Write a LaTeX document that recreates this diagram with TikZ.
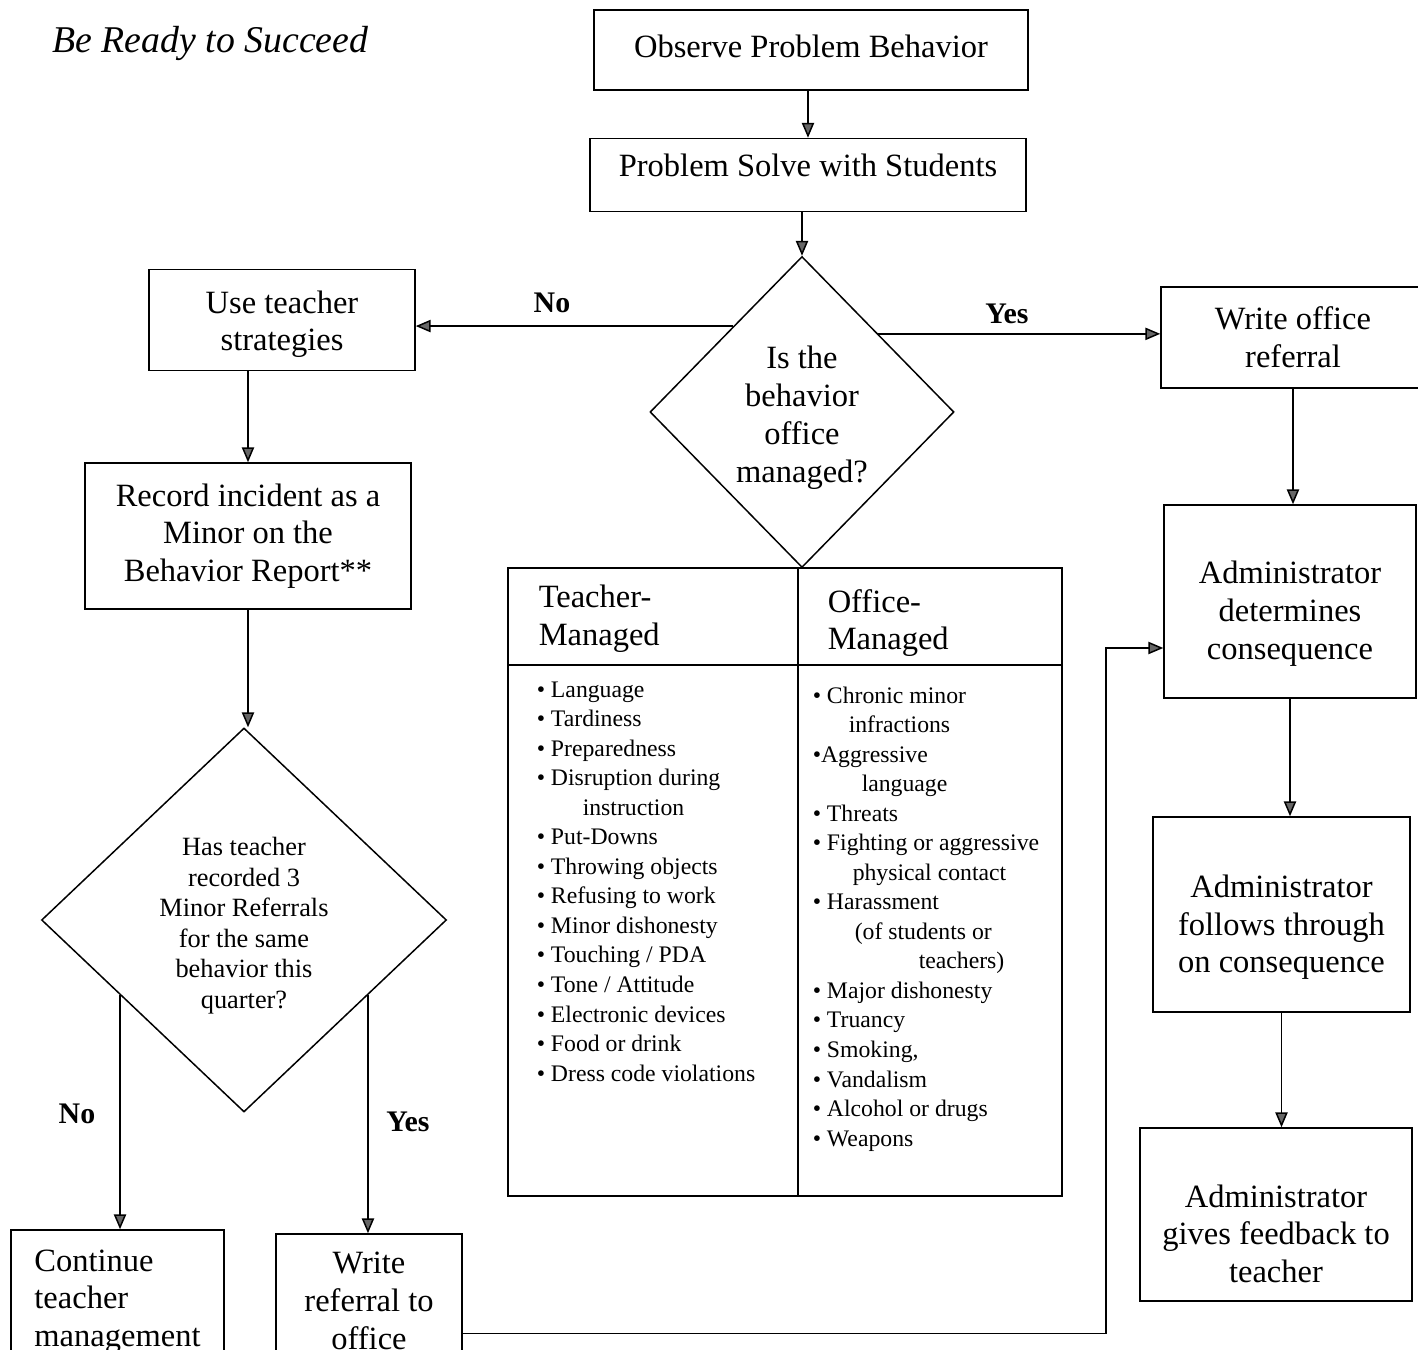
\documentclass[tikz,border=0pt]{standalone}
\usepackage{fontspec}
\setmainfont{Liberation Serif}
\usetikzlibrary{arrows.meta, shapes.geometric, calc}

\begin{document}
\begin{tikzpicture}[line width=0.85pt,
    box/.style={draw, rectangle, align=center, inner sep=0pt, font=\fontsize{18.5}{21.5}\selectfont},
    decision/.style={draw, diamond, align=center, inner sep=0pt, font=\fontsize{18.5}{21.5}\selectfont},
    lbl/.style={font=\fontsize{17}{20}\selectfont\bfseries},
    head/.style={anchor=west, align=left, inner sep=0pt, font=\fontsize{18.5}{21.5}\selectfont},
    items/.style={anchor=north west, align=left, inner sep=0pt, font=\fontsize{13.5}{16.8}\selectfont},
    arr/.style={-{Triangle[length=8.5pt, width=7pt, fill=black!60]}}]

    \useasboundingbox (0,0) rectangle (28.36,-27);

    \node[anchor=west, font=\fontsize{21.5}{24}\selectfont\itshape] at (0.92,-0.86) (title) {Be Ready to Succeed};

    % main column
    \node[box, text depth=0.16cm, minimum width=8.68cm, minimum height=1.6cm] at (16.22,-1.0) (obs) {Observe Problem Behavior};
    \node[box, text depth=0.38cm, minimum width=8.72cm, minimum height=1.46cm] at (16.16,-3.5) (pss) {Problem Solve with Students};
    \node[decision, minimum width=6.08cm, minimum height=6.22cm] at (16.04,-8.24) (dia) {\rule{0pt}{0.68cm}Is the\\behavior\\office\\managed?};

    % teacher side
    \node[box, minimum width=5.32cm, minimum height=2.02cm] at (5.64,-6.4) (uts) {\rule{0pt}{0.62cm}Use teacher\\strategies};
    \node[box, minimum width=6.52cm, minimum height=2.92cm] at (4.96,-10.72) (rec) {Record incident as a\\Minor on the\\Behavior Report**};
    \node[decision, minimum width=8.1cm, minimum height=7.68cm, font=\fontsize{15}{17.4}\selectfont] at (4.88,-18.4) (dia2) {\rule{0pt}{0.59cm}Has teacher\\recorded 3\\Minor Referrals\\for the same\\behavior this\\quarter?};
    \node[box, align=left, minimum width=4.26cm, minimum height=2.68cm] at (2.35,-25.94) (cont) {\rule{0pt}{0.62cm}Continue\\teacher\\management};
    \node[box, minimum width=3.72cm, minimum height=2.68cm] at (7.38,-26.02) (wref) {Write\\referral to\\office};

    % office side
    \node[box, minimum width=5.28cm, minimum height=2.02cm] at (25.86,-6.75) (wor) {Write office\\referral};
    \node[box, minimum width=5.04cm, minimum height=3.86cm] at (25.8,-12.03) (adet) {\rule{0pt}{0.94cm}Administrator\\determines\\consequence};
    \node[box, minimum width=5.14cm, minimum height=3.9cm] at (25.63,-18.29) (afol) {\rule{0pt}{0.96cm}Administrator\\follows through\\on consequence};
    \node[box, minimum width=5.44cm, minimum height=3.46cm] at (25.52,-24.29) (afb) {\rule{0pt}{1.22cm}Administrator\\gives feedback to\\teacher};

    % table of behaviors
    \draw (10.16,-11.36) rectangle (21.24,-23.92);
    \draw (15.96,-11.36) -- (15.96,-23.92);
    \draw (10.16,-13.3) -- (21.24,-13.3);
    \node[head] at (10.76,-12.37) (tmhead) {Teacher-\\Managed};
    \node[head] at (16.54,-12.46) (omhead) {Office-\\Managed};
    \node[items] at (10.72,-13.62) (tmlist) {\textbullet\ Language\\
        \textbullet\ Tardiness\\
        \textbullet\ Preparedness\\
        \textbullet\ Disruption during\\
        \hspace*{0.92cm}instruction\\
        \textbullet\ Put-Downs\\
        \textbullet\ Throwing objects\\
        \textbullet\ Refusing to work\\
        \textbullet\ Minor dishonesty\\
        \textbullet\ Touching / PDA\\
        \textbullet\ Tone / Attitude\\
        \textbullet\ Electronic devices\\
        \textbullet\ Food or drink\\
        \textbullet\ Dress code violations};
    \node[items] at (16.24,-13.72) (omlist) {\textbullet\ Chronic minor\\
        \hspace*{0.72cm}infractions\\
        \textbullet Aggressive\\
        \hspace*{0.98cm}language\\
        \textbullet\ Threats\\
        \textbullet\ Fighting or aggressive\\
        \hspace*{0.8cm}physical contact\\
        \textbullet\ Harassment\\
        \hspace*{0.84cm}(of students or\\
        \hspace*{2.12cm}teachers)\\
        \textbullet\ Major dishonesty\\
        \textbullet\ Truancy\\
        \textbullet\ Smoking,\\
        \textbullet\ Vandalism\\
        \textbullet\ Alcohol or drugs\\
        \textbullet\ Weapons};

    % connectors
    \coordinate (nopt) at ($(dia.north)!0.45!(dia.west)$);
    \coordinate (yespt) at ($(dia.north)!0.5!(dia.east)$);
    \coordinate (nopt2) at ($(dia2.west)!0.39!(dia2.south)$);
    \coordinate (yespt2) at ($(dia2.east)!0.39!(dia2.south)$);
    \coordinate (turn) at (22.12,-12.96);

    \draw[arr] (pss.north |- obs.south) -- (pss.north);
    \draw[arr] (dia.north |- pss.south) -- (dia.north);
    \draw[arr] (nopt) -- (nopt -| uts.east);
    \draw[arr] (yespt) -- (yespt -| wor.west);
    \draw[arr] (rec.north |- uts.south) -- (rec.north);
    \draw[arr] (rec.south) -- (rec.south |- dia2.north);
    \draw[arr] (nopt2) -- (nopt2 |- cont.north);
    \draw[arr] (yespt2) -- (yespt2 |- wref.north);
    \draw[arr] ([yshift=-0.65cm]wref.east) -| (turn) -- (turn -| adet.west);
    \draw[arr] (wor.south) -- (wor.south |- adet.north);
    \draw[arr] (adet.south) -- (adet.south |- afol.north);
    \draw[arr] (afol.south) -- (afol.south |- afb.north);

    \node[lbl] at (11.04,-6.06) (no1) {No};
    \node[lbl] at (20.14,-6.28) (yes1) {Yes};
    \node[lbl] at (1.54,-22.28) (no2) {No};
    \node[lbl] at (8.16,-22.44) (yes2) {Yes};
\end{tikzpicture}
\end{document}
